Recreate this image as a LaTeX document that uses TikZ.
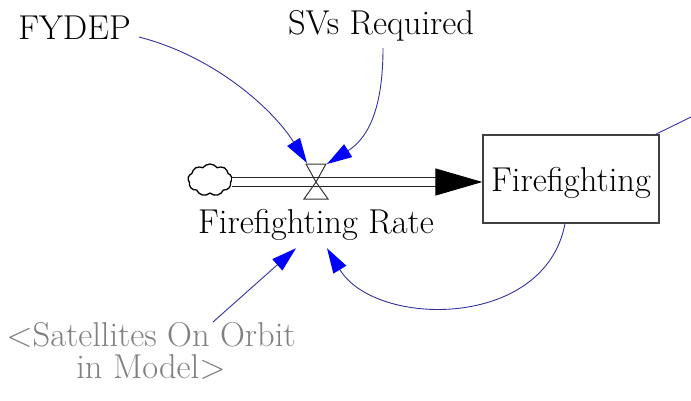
\documentclass[tikz,border=0pt]{standalone}
\usepackage{fontspec}
\usetikzlibrary{arrows.meta,shapes.symbols}
\definecolor{linkblue}{RGB}{50,50,160}
\definecolor{shadowgray}{RGB}{128,128,128}
\tikzset{
  var/.style={inner sep=0pt, font=\rmfamily\fontsize{34.5}{32}\selectfont},
  link/.style={draw=linkblue, line width=0.9pt, -{Triangle[length=25pt,width=15pt,color=blue,fill=blue]}},
  pipe/.style={draw=black!85, line width=1.3pt, double=white, double distance=7.7pt},
  flowtip/.style={line width=1pt, -{Triangle[length=47pt,width=27pt]}},
  valveline/.style={draw=black!80, line width=1pt},
}
\begin{document}
\begin{tikzpicture}[x=1pt,y=-1pt]
    \useasboundingbox (0,0) rectangle (691,400);
    \node [var, anchor=base] (fydep) at (74.5,39) {FYDEP};
    \node [var, anchor=base] (svreq) at (381,34) {SVs Required};
    \node [var, anchor=base] (ratelabel) at (316,233) {Firefighting Rate};
    \node [var, anchor=north, align=center, text=shadowgray] (sats) at (151,322) {<Satellites On Orbit\\in Model>};
    \node [var, draw=black!75, line width=1.3pt, minimum width=176pt, minimum height=88pt, text depth=0pt] (stock) at (571,179) {Firefighting};
    \node [cloud, draw, cloud puffs=9, cloud puff arc=110, aspect=1.4, minimum width=44pt, minimum height=32pt, inner sep=0pt, line width=1.3pt] (source) at (210,180) {};
    \coordinate (valve) at (316,182);
    \coordinate (pipeend) at (436,182);
    \coordinate (offedge) at (691,117);

    \draw[pipe] (source.east |- pipeend) -- (pipeend);
    \draw[flowtip] (pipeend) -- (pipeend -| stock.west);
    \draw[valveline] (valve) -- ++(-10,-18) -- ++(20,0) -- cycle;
    \draw[valveline] (valve) -- ++(-12,17) -- ++(24,0) -- cycle;

    \draw[link] ([xshift=8pt,yshift=2pt]fydep.base east) .. controls (210,55) and (270,105) .. ([xshift=-9pt,yshift=19pt]valve);
    \draw[link] ([xshift=2pt,yshift=-7pt]svreq.south) .. controls (383,115) and (365,140) .. ([xshift=11pt,yshift=18pt]valve);
    \draw[link] ([xshift=-6pt]stock.south) .. controls (545,330) and (375,328) .. ([xshift=11pt,yshift=-8pt]ratelabel.south);
    \draw[link] ([xshift=62pt]sats.north) -- ([xshift=-20pt,yshift=-8pt]ratelabel.south);
    \draw[draw=linkblue, line width=0.9pt] ([xshift=-4pt]stock.north east) -- (offedge);
\end{tikzpicture}
\end{document}
